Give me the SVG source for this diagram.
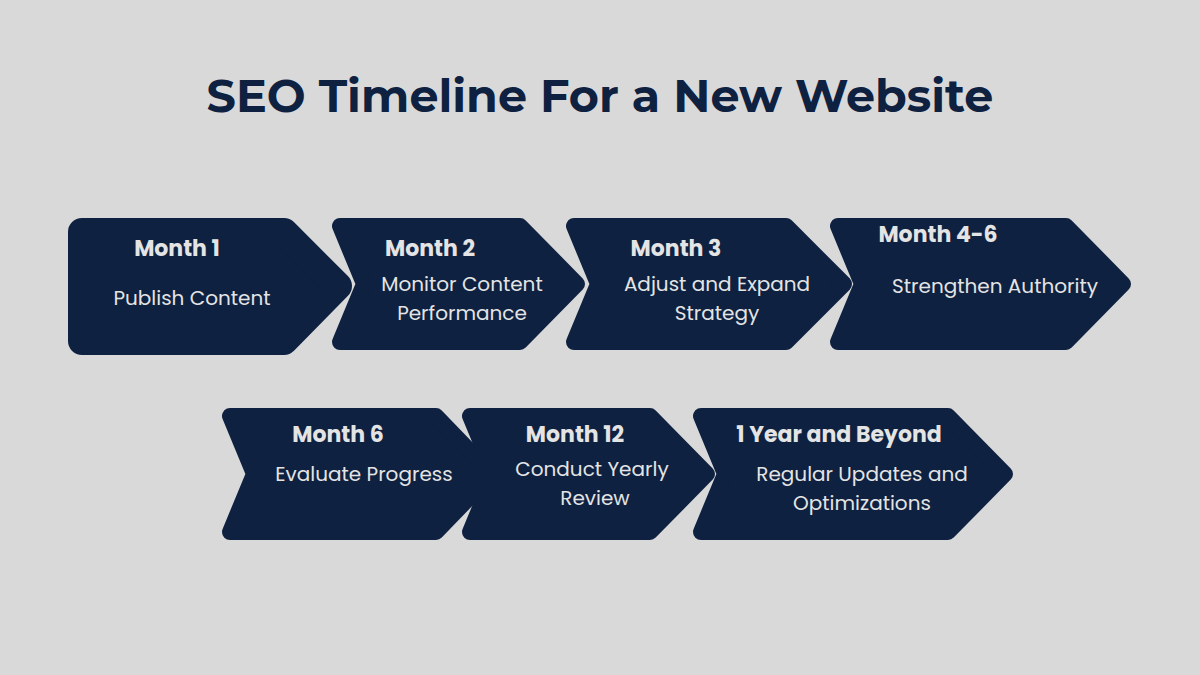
<svg xmlns="http://www.w3.org/2000/svg" width="1200" height="675" viewBox="0 0 1200 675">
<style>
.s{fill:#0e2140;stroke:#0e2140;stroke-width:16;stroke-linejoin:round}
.h{font-family:Poppins,Inter,"Liberation Sans",sans-serif;font-weight:700;font-size:22px;fill:#e4e4e4;text-anchor:middle}
.b{font-family:Poppins,"Open Sans","Liberation Sans",sans-serif;font-size:20px;fill:#e4e4e4;text-anchor:middle}
</style>
<rect width="1200" height="675" fill="#d9d9d9"/>
<text x="600" y="112" font-family="Montserrat,Inter,'Liberation Sans',sans-serif" font-weight="700" font-size="46" fill="#0e2140" text-anchor="middle">SEO Timeline For a New Website</text>
<g id="connectors"/>
<g id="n1"><path class="s" style="stroke-width:28" d="M82,232 L284,232 L338,286 L284,341 L82,341 Z"/><text class="h" x="177" y="256">Month 1</text><text class="b" x="192" y="305">Publish Content</text></g>
<g id="n2"><path class="s" d="M340,226 L520,226 L577,284 L520,342 L340,342 L364,284 Z"/><text class="h" x="430" y="256">Month 2</text><text class="b" x="462" y="291">Monitor Content</text><text class="b" x="462" y="320">Performance</text></g>
<g id="n3"><path class="s" d="M574,226 L786,226 L844,284 L786,342 L574,342 L598,284 Z"/><text class="h" x="676" y="256">Month 3</text><text class="b" x="717" y="291">Adjust and Expand</text><text class="b" x="717" y="320">Strategy</text></g>
<g id="n4"><path class="s" d="M838,226 L1066,226 L1123,284 L1066,342 L838,342 L862,284 Z"/><text class="h" x="938" y="242">Month 4-6</text><text class="b" x="995" y="293">Strengthen Authority</text></g>
<g id="n5"><path class="s" d="M230,416 L436,416 L492,474 L436,532 L230,532 L254,474 Z"/><text class="h" x="338" y="442">Month 6</text><text class="b" x="364" y="481">Evaluate Progress</text></g>
<g id="n6"><path class="s" d="M470,416 L650,416 L707,474 L650,532 L470,532 L494,474 Z"/><text class="h" x="575" y="442">Month 12</text><text class="b" x="592" y="476">Conduct Yearly</text><text class="b" x="595" y="505">Review</text></g>
<g id="n7"><path class="s" d="M701,416 L948,416 L1005,474 L948,532 L701,532 L725,474 Z"/><text class="h" x="839" y="442">1 Year and Beyond</text><text class="b" x="862" y="481">Regular Updates and</text><text class="b" x="862" y="510">Optimizations</text></g>
</svg>
